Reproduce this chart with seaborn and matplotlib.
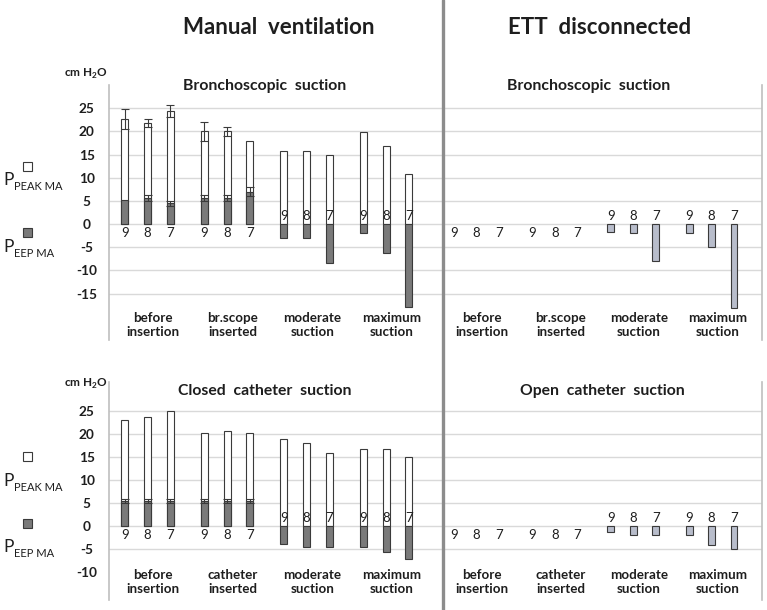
import numpy as np
import pandas as pd
import seaborn as sns
import matplotlib.pyplot as plt
from matplotlib.lines import Line2D
from matplotlib.patches import Rectangle

# data (cm H2O)
sizes = ['9', '8', '7']
groups_top = ['before\ninsertion', 'br.scope\ninserted', 'moderate\nsuction', 'maximum\nsuction']
groups_bottom = ['before\ninsertion', 'catheter\ninserted', 'moderate\nsuction', 'maximum\nsuction']

bronch_peak = [22.7, 21.8, 24.4, 20.0, 20.0, 17.9, 15.8, 15.8, 14.8, 19.9, 16.9, 10.9]
bronch_peak_err = [2.1, 0.9, 1.3, 2.0, 1.0, 0, 0, 0, 0, 0, 0, 0]
bronch_peep = [5.3, 5.6, 4.5, 5.6, 5.6, 7.0, -3.0, -3.0, -8.3, -2.0, -6.3, -17.8]
bronch_peep_err = [0, 0.6, 0.5, 0.6, 0.6, 0.9, 0, 0, 0, 0, 0, 0]

closed_peak = [23.0, 23.6, 25.0, 20.1, 20.5, 20.1, 18.8, 17.9, 15.9, 16.8, 16.8, 15.0]
closed_peep = [5.4, 5.4, 5.4, 5.4, 5.4, 5.4, -3.9, -4.6, -4.6, -4.6, -5.7, -7.1]
closed_peep_err = [0.4, 0.4, 0.4, 0.4, 0.4, 0.4, 0, 0, 0, 0, 0, 0]

ett_bronch = [0, 0, 0, 0, 0, 0, -1.6, -1.9, -7.9, -1.9, -5.0, -18.0]
ett_open = [0, 0, 0, 0, 0, 0, -1.2, -1.9, -1.9, -1.9, -4.1, -4.9]

sns.set_style("white")
plt.rcParams['font.family'] = ['Lato', 'DejaVu Sans']
plt.rcParams['mathtext.fontset'] = 'custom'
plt.rcParams['mathtext.rm'] = 'Lato'
plt.rcParams['mathtext.bf'] = 'Lato:bold'

W, H = 767, 610
fig = plt.figure(figsize=(W / 100, H / 100), dpi=100)

def ax_px(x0, y0, x1, y1):
    return fig.add_axes([x0 / W, 1 - y1 / H, (x1 - x0) / W, (y1 - y0) / H])

def ftext(x, y, s, **kw):
    fig.text(x / W, 1 - y / H, s, ha='center', va='center', **kw)

pos = [g * 3.5 + j for g in range(4) for j in range(3)]
edge = '#3a3a3a'
grid_col = '#d9d9d9'
txt = '#1e1e1e'

def panel(ax, groups, ylim, xlim, grid, ticks, label_y, peak=None, peak_err=None,
          neg=None, neg_err=None, neg_color='#7a7a7a', left=True):
    df = pd.DataFrame({'pos': pos, 'value': neg})
    for g in grid:
        ax.axhline(g, color=grid_col, lw=1, zorder=0)
    if peak is not None:
        dp = pd.DataFrame({'pos': pos, 'value': peak})
        sns.barplot(data=dp, x='pos', y='value', native_scale=True, orient='x', width=0.31,
                    color='white', edgecolor=edge, linewidth=0.8, errorbar=None,
                    saturation=1, ax=ax, zorder=2)
    dn = df[df['value'] != 0]
    sns.barplot(data=dn, x='pos', y='value', native_scale=True, orient='x', width=0.31,
                color=neg_color, edgecolor=edge, linewidth=0.8, errorbar=None,
                saturation=1, ax=ax, zorder=3)
    for err, vals in ((peak_err, peak), (neg_err, neg)):
        if err is None:
            continue
        for x, v, e in zip(pos, vals, err):
            if e > 0:
                ax.errorbar(x, v, yerr=e, fmt='none', ecolor=edge, elinewidth=0.8,
                            capsize=3, capthick=0.8, zorder=4)
    for i, (x, v) in enumerate(zip(pos, neg)):
        ax.text(x, 1.8 if v < 0 else -2.0, sizes[i % 3], ha='center', va='center',
                fontsize=9.5, color=txt, zorder=5)
    for g, name in enumerate(groups):
        ax.text(g * 3.5 + 1.25, label_y, name, ha='center', va='center', fontsize=9.6,
                fontweight='bold', linespacing=1.2, color=txt)
    ax.set_xlim(*xlim)
    ax.set_ylim(*ylim)
    ax.set_xticks([])
    ax.set_xlabel('')
    ax.set_ylabel('')
    for s in ax.spines.values():
        s.set_visible(False)
    if left:
        ax.set_yticks(ticks)
        ax.set_yticklabels([str(t) for t in ticks], fontweight='bold', fontsize=9.8,
                           ha='center', color=txt)
        ax.tick_params(axis='y', length=0, pad=16)
        ax.spines['left'].set_visible(True)
        ax.spines['left'].set_color('#bfbfbf')
        ax.spines['left'].set_linewidth(1.2)
    else:
        ax.set_yticks([])
        ax.spines['right'].set_visible(True)
        ax.spines['right'].set_color('#bfbfbf')
        ax.spines['right'].set_linewidth(1.2)

top_lim = (-25.0, 30.0)
bot_lim = (-16.0, 31.2)
top_ticks = [25, 20, 15, 10, 5, 0, -5, -10, -15]
bot_ticks = [25, 20, 15, 10, 5, 0, -5, -10]
xl_left = (-0.7, 14.0)
xl_right = (-0.49, 13.75)

ax1 = ax_px(109, 85, 443, 340)
panel(ax1, groups_top, top_lim, xl_left, top_ticks, top_ticks, -21.7,
      peak=bronch_peak, peak_err=bronch_peak_err, neg=bronch_peep, neg_err=bronch_peep_err)

ax2 = ax_px(443, 85, 762, 340)
panel(ax2, groups_top, top_lim, xl_right, top_ticks, top_ticks, -21.7,
      neg=ett_bronch, neg_color='#b8bdcb', left=False)

ax3 = ax_px(109, 382, 443, 600)
panel(ax3, groups_bottom, bot_lim, xl_left, bot_ticks[:-1], bot_ticks, -12.0,
      peak=closed_peak, neg=closed_peep, neg_err=closed_peep_err)

ax4 = ax_px(443, 382, 762, 600)
panel(ax4, groups_bottom, bot_lim, xl_right, bot_ticks[:-1], bot_ticks, -12.0,
      neg=ett_open, neg_color='#b8bdcb', left=False)

# headings
ftext(279, 28, 'Manual  ventilation', fontsize=16, fontweight='bold', color=txt)
ftext(600, 28, 'ETT  disconnected', fontsize=16, fontweight='bold', color=txt)
ftext(265, 86, 'Bronchoscopic  suction', fontsize=11.3, fontweight='bold', color=txt)
ftext(589, 86, 'Bronchoscopic  suction', fontsize=11.3, fontweight='bold', color=txt)
ftext(265, 391, 'Closed  catheter  suction', fontsize=11.3, fontweight='bold', color=txt)
ftext(602, 391, 'Open  catheter  suction', fontsize=11.3, fontweight='bold', color=txt)
ftext(86, 74, r'cm H$_\mathbf{2}$O', fontsize=8.5, fontweight='bold', color=txt)
ftext(86, 384, r'cm H$_\mathbf{2}$O', fontsize=8.5, fontweight='bold', color=txt)

# left-hand legend
for sq_y, p_y, sub, col in [(166, 180, 'PEAK MA', 'white'), (232, 247, 'EEP MA', '#7a7a7a'),
                            (456, 481, 'PEAK MA', 'white'), (523, 547, 'EEP MA', '#7a7a7a')]:
    fig.add_artist(Rectangle((22.5 / W, 1 - (sq_y + 4.5) / H), 9 / W, 9 / H,
                             transform=fig.transFigure, facecolor=col, edgecolor=edge, lw=0.8))
    fig.text(3 / W, 1 - p_y / H, 'P', ha='left', va='center', fontsize=12.5, color=txt)
    fig.text(13.5 / W, 1 - (p_y + 6.5) / H, sub, ha='left', va='center', fontsize=8,
             color=txt)

# divider between the two halves
fig.add_artist(Line2D([443 / W, 443 / W], [0, 1], transform=fig.transFigure,
                      color='#8c8c8c', lw=2.4))

fig.savefig('out.png', dpi=100)
